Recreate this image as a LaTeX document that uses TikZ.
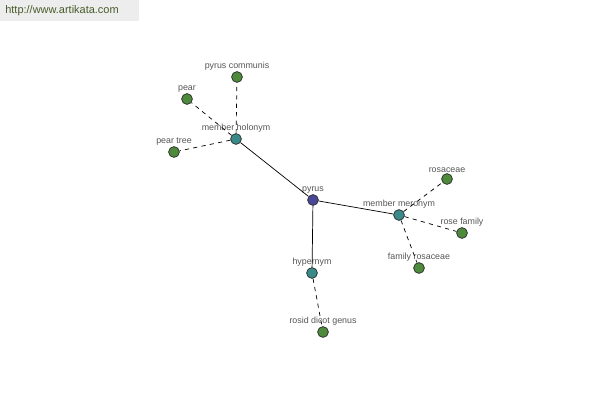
\documentclass[tikz,border=0pt]{standalone}
\usepackage{fontspec}
\setmainfont{Liberation Sans}
\usetikzlibrary{positioning}
\definecolor{rootblue}{RGB}{72,72,150}
\definecolor{relteal}{RGB}{58,138,138}
\definecolor{leafgreen}{RGB}{78,138,60}
\definecolor{textgray}{RGB}{85,85,85}
\definecolor{marklink}{RGB}{72,92,40}
\tikzset{
  every label/.style={inner sep=0.6pt, text=textgray, font=\fontsize{6.3}{7}\selectfont},
  word/.style={circle, draw=black!85, line width=0.5pt, inner sep=0pt, minimum size=0.27cm,
    label distance=0.3pt},
  root/.style={word, fill=rootblue},
  rel/.style={word, fill=relteal},
  leaf/.style={word, fill=leafgreen},
  link/.style={line width=0.5pt, black},
  weak/.style={line width=0.5pt, black, dash pattern=on 3pt off 3pt}
}

\begin{document}
\begin{tikzpicture}[x=0.025cm, y=-0.025cm]
        \useasboundingbox (0,0) rectangle (600,400);
        % site mark
        \fill[black!7] (0,0) rectangle (139,21);
        \node[text=marklink, font=\fontsize{7.8}{9}\selectfont] (site) at (62,11) {http://www.artikata.com};

        % centre and relations
        \node[root, label=above:pyrus] (pyrus) at (313,200) {};
        \node[rel, label=above:member holonym] (holonym) at (236,139) {};
        \node[rel, label=above:member meronym] (meronym) at (399,215) {};
        \node[rel, label=above:hypernym] (hypernym) at (312,273) {};

        % leaves
        \node[leaf, label=above:pyrus communis] (communis) at (237,77) {};
        \node[leaf, label=above:pear] (pear) at (187,99) {};
        \node[leaf, label=above:pear tree] (peartree) at (174,152) {};
        \node[leaf, label=above:rosaceae] (rosaceae) at (447,179) {};
        \node[leaf, label=above:rose family] (rosefamily) at (462,233) {};
        \node[leaf, label=above:family rosaceae] (familyros) at (419,268) {};
        \node[leaf, label=above:rosid dicot genus] (rosid) at (323,332) {};

        \foreach \a in {holonym, meronym, hypernym} {
            \draw[link] (pyrus) -- (\a);
        }
        \foreach \a/\b in {holonym/communis, holonym/pear, holonym/peartree,
                           meronym/rosaceae, meronym/rosefamily, meronym/familyros,
                           hypernym/rosid} {
            \draw[weak] (\a) -- (\b);
        }
    \end{tikzpicture}
\end{document}
